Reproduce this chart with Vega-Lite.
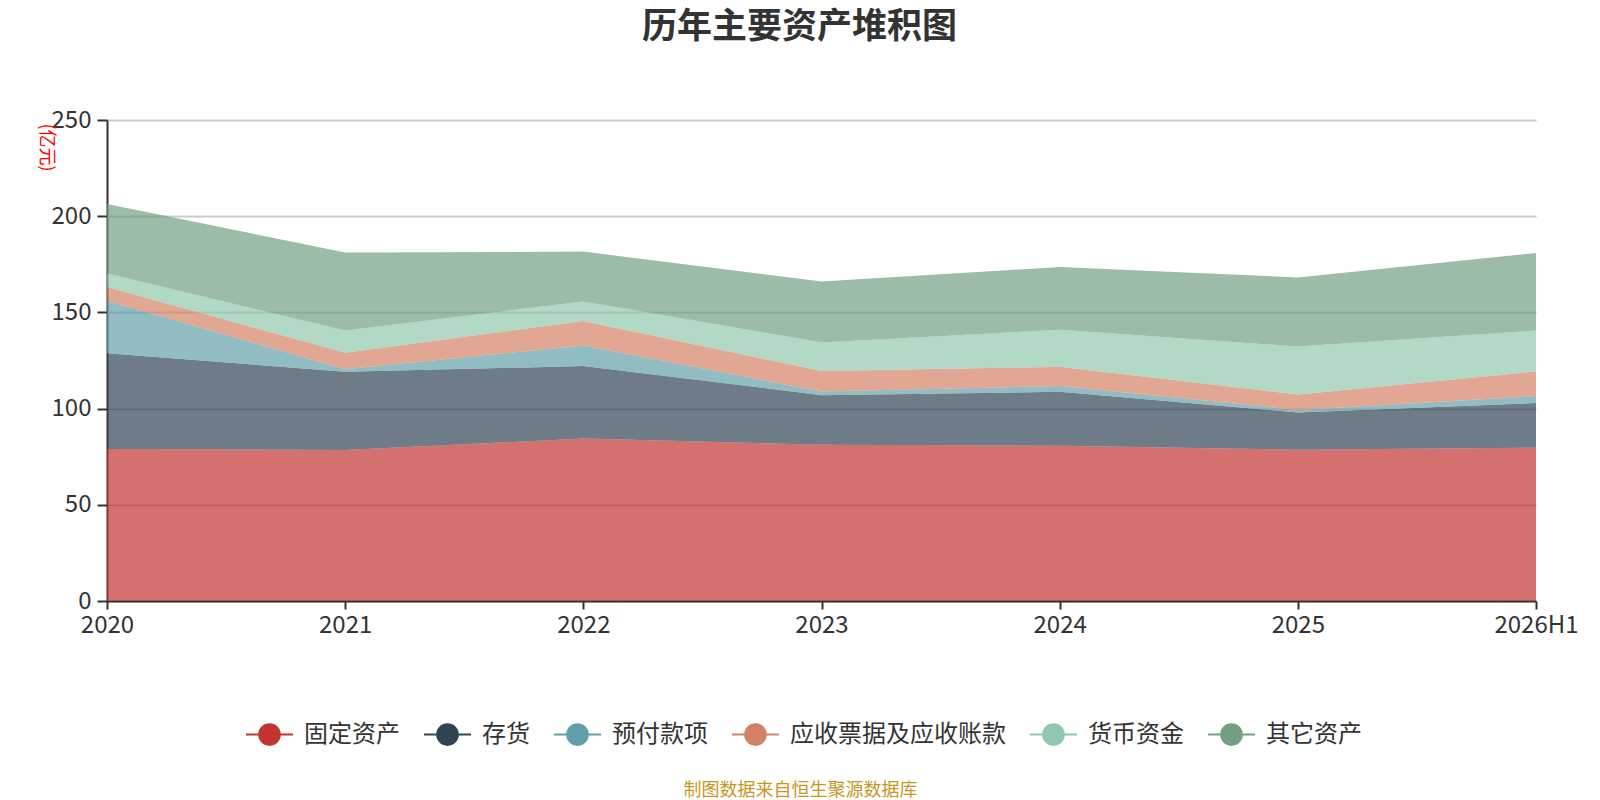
{
  "$schema": "https://vega.github.io/schema/vega-lite/v6.json",
  "width": 1429,
  "height": 481,
  "autosize": {"type": "none"},
  "padding": {"left": 107, "top": 120, "right": 64, "bottom": 199},
  "background": "#ffffff",
  "config": {
    "font": "Noto Sans CJK SC",
    "view": {"stroke": null}
  },
  "title": {
    "text": "历年主要资产堆积图",
    "fontSize": 35,
    "fontWeight": "bold",
    "color": "#333333",
    "anchor": "middle",
    "baseline": "middle",
    "offset": 46,
    "dx": -22
  },
  "data": {
    "values": [
      {"year": "2020", "type": "固定资产", "value": 79.0},
      {"year": "2021", "type": "固定资产", "value": 78.5},
      {"year": "2022", "type": "固定资产", "value": 84.4},
      {"year": "2023", "type": "固定资产", "value": 81.2},
      {"year": "2024", "type": "固定资产", "value": 80.7},
      {"year": "2025", "type": "固定资产", "value": 78.6},
      {"year": "2026H1", "type": "固定资产", "value": 79.7},
      {"year": "2020", "type": "存货", "value": 49.8},
      {"year": "2021", "type": "存货", "value": 40.6},
      {"year": "2022", "type": "存货", "value": 37.7},
      {"year": "2023", "type": "存货", "value": 25.8},
      {"year": "2024", "type": "存货", "value": 28.0},
      {"year": "2025", "type": "存货", "value": 19.4},
      {"year": "2026H1", "type": "存货", "value": 23.2},
      {"year": "2020", "type": "预付款项", "value": 27.3},
      {"year": "2021", "type": "预付款项", "value": 1.4},
      {"year": "2022", "type": "预付款项", "value": 10.7},
      {"year": "2023", "type": "预付款项", "value": 1.9},
      {"year": "2024", "type": "预付款项", "value": 3.0},
      {"year": "2025", "type": "预付款项", "value": 1.3},
      {"year": "2026H1", "type": "预付款项", "value": 3.6},
      {"year": "2020", "type": "应收票据及应收账款", "value": 7.1},
      {"year": "2021", "type": "应收票据及应收账款", "value": 8.5},
      {"year": "2022", "type": "应收票据及应收账款", "value": 12.7},
      {"year": "2023", "type": "应收票据及应收账款", "value": 10.6},
      {"year": "2024", "type": "应收票据及应收账款", "value": 10.0},
      {"year": "2025", "type": "应收票据及应收账款", "value": 8.0},
      {"year": "2026H1", "type": "应收票据及应收账款", "value": 12.8},
      {"year": "2020", "type": "货币资金", "value": 7.0},
      {"year": "2021", "type": "货币资金", "value": 11.6},
      {"year": "2022", "type": "货币资金", "value": 10.2},
      {"year": "2023", "type": "货币资金", "value": 14.9},
      {"year": "2024", "type": "货币资金", "value": 19.3},
      {"year": "2025", "type": "货币资金", "value": 25.0},
      {"year": "2026H1", "type": "货币资金", "value": 21.3},
      {"year": "2020", "type": "其它资产", "value": 36.2},
      {"year": "2021", "type": "其它资产", "value": 40.5},
      {"year": "2022", "type": "其它资产", "value": 25.9},
      {"year": "2023", "type": "其它资产", "value": 31.7},
      {"year": "2024", "type": "其它资产", "value": 32.6},
      {"year": "2025", "type": "其它资产", "value": 35.9},
      {"year": "2026H1", "type": "其它资产", "value": 40.3}
    ]
  },
  "transform": [
    {"calculate": "indexof(['固定资产', '存货', '预付款项', '应收票据及应收账款', '货币资金', '其它资产'], datum.type)", "as": "rank"}
  ],
  "mark": {"type": "area", "opacity": 0.7, "strokeWidth": 0},
  "encoding": {
    "x": {
      "field": "year",
      "type": "ordinal",
      "scale": {"type": "point", "padding": 0},
      "axis": {
        "labelAngle": 0,
        "labelFontSize": 24,
        "labelColor": "#333333",
        "labelPadding": 4,
        "tickSize": 8,
        "tickColor": "#333333",
        "domainColor": "#333333",
        "domainWidth": 2,
        "tickWidth": 2,
        "grid": false,
        "title": "制图数据来自恒生聚源数据库",
        "titleFontSize": 18,
        "titleFontWeight": "normal",
        "titleColor": "#c8961e",
        "titleX": 693,
        "titleY": 189,
        "titleAnchor": "middle",
        "titleAlign": "center",
        "titleBaseline": "middle"
      }
    },
    "y": {
      "field": "value",
      "type": "quantitative",
      "stack": "zero",
      "scale": {"domain": [0, 250], "nice": false},
      "axis": {
        "values": [0, 50, 100, 150, 200, 250],
        "labelFontSize": 24,
        "labelColor": "#333333",
        "labelPadding": 6,
        "tickSize": 10,
        "tickColor": "#333333",
        "tickWidth": 2,
        "domainColor": "#333333",
        "domainWidth": 2,
        "grid": true,
        "gridColor": "#cccccc",
        "gridWidth": 2,
        "title": "(亿元)",
        "titleFontSize": 18,
        "titleFontWeight": "normal",
        "titleColor": "#ff0000",
        "titleAngle": 90,
        "titleX": -62,
        "titleY": 27,
        "titleAlign": "center",
        "titleBaseline": "middle"
      }
    },
    "order": {"field": "rank", "type": "quantitative", "sort": "ascending"},
    "color": {
      "field": "type",
      "type": "nominal",
      "sort": ["固定资产", "存货", "预付款项", "应收票据及应收账款", "货币资金", "其它资产"],
      "scale": {
        "domain": ["固定资产", "存货", "预付款项", "应收票据及应收账款", "货币资金", "其它资产"],
        "range": ["#c23531", "#2f4554", "#61a0a8", "#d48265", "#91c7ae", "#749f83"]
      },
      "legend": {
        "title": null,
        "orient": "none",
        "direction": "horizontal",
        "columns": 6,
        "legendX": 138,
        "legendY": 590,
        "symbolType": "M -1 0 L -0.44 0 M 0.44 0 L 1 0 M 0.44 0 A 0.44 0.44 0 1 1 -0.44 0 A 0.44 0.44 0 1 1 0.44 0 Z",
        "symbolSize": 2209,
        "symbolOpacity": 1,
        "symbolStrokeWidth": 2,
        "labelFontSize": 24,
        "labelColor": "#333333",
        "labelLimit": 0,
        "labelOffset": 10,
        "columnPadding": 20
      }
    },
    "stroke": {
      "field": "type",
      "type": "nominal",
      "sort": ["固定资产", "存货", "预付款项", "应收票据及应收账款", "货币资金", "其它资产"],
      "scale": {
        "domain": ["固定资产", "存货", "预付款项", "应收票据及应收账款", "货币资金", "其它资产"],
        "range": ["#c23531", "#2f4554", "#61a0a8", "#d48265", "#91c7ae", "#749f83"]
      },
      "legend": null
    }
  }
}
